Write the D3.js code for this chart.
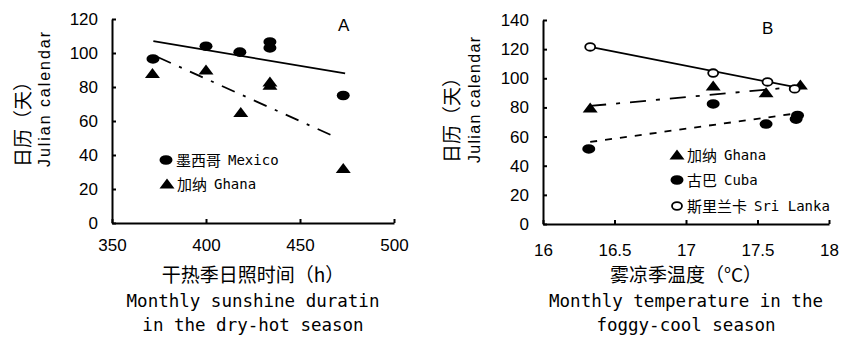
<!DOCTYPE html>
<html>
<head>
<meta charset="utf-8">
<script src="https://cdn.jsdelivr.net/npm/d3@7"></script>
<style>
  body { margin: 0; background: #fff; }
  .tick text { font-family: "Liberation Sans", Arial, sans-serif; font-size: 17px; fill: #000; }
  .domain, .tick line { stroke: #000; stroke-width: 2px; }
</style>
</head>
<body>
<div id="chart"></div>
<script>
// panel A: sunshine hours (dry-hot season)
const sunshineMexico = [371.8, 400, 418, 434, 434, 473];
const dayMexico = [96.5, 104, 100.5, 106.5, 103, 75];
const sunshineGhana = [371.5, 400, 418.5, 434, 434, 473];
const dayGhana = [88, 90, 65, 83, 81, 32];
const trendMexicoA = { x: [372, 474], y: [107, 88] };
const trendGhanaA = { x: [374.5, 470], y: [97.5, 50] };
const xTicksA = [350, 400, 450, 500];
const yTicksA = [0, 20, 40, 60, 80, 100, 120];

// panel B: temperature (foggy-cool season)
const tempGhana = [16.33, 17.19, 17.56, 17.8];
const dayGhanaB = [79.6, 94.7, 90, 95.4];
const tempCuba = [16.32, 17.19, 17.56, 17.77, 17.78];
const dayCuba = [51.5, 82.4, 68.6, 72, 74.5];
const tempSriLanka = [16.33, 17.19, 17.57, 17.76];
const daySriLanka = [121.5, 103.6, 97.5, 92.7];
const trendSriLanka = { x: [16.33, 17.81], y: [121.5, 93] };
const trendGhanaB = { x: [16.33, 17.76], y: [81, 94] };
const trendCuba = { x: [16.33, 17.78], y: [56.3, 76] };
const xTicksB = [16, 16.5, 17, 17.5, 18];
const yTicksB = [0, 20, 40, 60, 80, 100, 120, 140];

const svg = d3.select("#chart")
  .append("svg")
  .attr("width", 842)
  .attr("height", 337);

const tri = "M-7.5,4.5L7.5,4.5L0,-5.5Z";

function marker(g, type, x, y) {
  if (type === "tri") {
    g.append("path").attr("d", tri).attr("transform", `translate(${x},${y})`).attr("fill", "#000");
  } else if (type === "dot") {
    g.append("ellipse").attr("cx", x).attr("cy", y).attr("rx", 6.5).attr("ry", 4.8).attr("fill", "#000");
  } else {
    g.append("ellipse").attr("cx", x).attr("cy", y).attr("rx", 5).attr("ry", 3.8)
      .attr("fill", "#fff").attr("stroke", "#000").attr("stroke-width", 1.8);
  }
}

function drawPanel(p) {
  const g = svg.append("g");
  const x = p.x, y = p.y;

  g.append("g")
    .attr("transform", `translate(${x.range()[0]},0)`)
    .call(d3.axisLeft(y).tickValues(p.yTicks).tickSizeInner(-4).tickSizeOuter(0).tickPadding(14));

  g.append("g")
    .attr("transform", `translate(0,${y.range()[0]})`)
    .call(d3.axisBottom(x).tickValues(p.xTicks).tickFormat(p.xFormat).tickSizeInner(-4).tickSizeOuter(0).tickPadding(p.xPad));

  // trend lines
  p.trends.forEach(t => {
    g.append("line")
      .attr("x1", x(t.d.x[0])).attr("y1", y(t.d.y[0]))
      .attr("x2", x(t.d.x[1])).attr("y2", y(t.d.y[1]))
      .attr("stroke", "#000").attr("stroke-width", 1.8)
      .attr("stroke-dasharray", t.dash);
  });

  // points
  p.series.forEach(s => {
    s.xs.forEach((v, i) => marker(g, s.type, x(v), y(s.ys[i])));
  });

  // legend
  p.legend.forEach(l => {
    marker(g, l.type, l.lx, l.ly);
    g.append("text").attr("x", l.lx + 10).attr("y", l.ly + 5.5)
      .style("font-family", "'Noto Sans CJK SC', sans-serif").style("font-size", "15px")
      .text(l.zh);
    g.append("text").attr("x", l.lx + 12 + l.zh.length * 15 + 5).attr("y", l.ly + 5)
      .style("font-family", "'DejaVu Sans Mono', monospace").style("font-size", "14px")
      .text(l.en);
  });

  g.append("text").attr("x", p.tag[0]).attr("y", p.tag[1])
    .style("font-family", "'Liberation Sans', Arial, sans-serif").style("font-size", "17px")
    .text(p.tag[2]);

  // y axis titles
  g.append("text")
    .attr("transform", `translate(${p.yLab[0]},${p.yLab[2]}) rotate(-90)`)
    .style("font-family", "'Noto Sans CJK SC', sans-serif").style("font-size", "19px")
    .text("日历（天）");
  g.append("text")
    .attr("transform", `translate(${p.yLab[1]},${p.yLab[2]}) rotate(-90)`)
    .attr("textLength", p.yLab[3]).attr("lengthAdjust", "spacing")
    .style("font-family", "'Liberation Sans', Arial, sans-serif").style("font-size", "16px")
    .text("Julian calendar");

  // x axis titles
  const cx = (x.range()[0] + x.range()[1]) / 2;
  g.append("text").attr("x", cx).attr("y", 282).attr("text-anchor", "middle")
    .style("font-family", "'Noto Sans CJK SC', sans-serif").style("font-size", "19px")
    .text(p.xTitle[0]);
  g.append("text").attr("x", cx).attr("y", 307).attr("text-anchor", "middle")
    .style("font-family", "'DejaVu Sans Mono', monospace").style("font-size", "17.5px")
    .text(p.xTitle[1]);
  g.append("text").attr("x", cx).attr("y", 331).attr("text-anchor", "middle")
    .style("font-family", "'DejaVu Sans Mono', monospace").style("font-size", "17.5px")
    .text(p.xTitle[2]);
}

drawPanel({
  x: d3.scaleLinear().domain([350, 500]).range([112, 394]),
  y: d3.scaleLinear().domain([0, 120]).range([223, 19]),
  xTicks: xTicksA, yTicks: yTicksA, xFormat: d3.format("d"), xPad: 16,
  trends: [
    { d: trendMexicoA, dash: null },
    { d: trendGhanaA, dash: "14,9,3,9" }
  ],
  series: [
    { type: "dot", xs: sunshineMexico, ys: dayMexico },
    { type: "tri", xs: sunshineGhana, ys: dayGhana }
  ],
  legend: [
    { type: "dot", zh: "墨西哥", en: "Mexico", lx: 166, ly: 160 },
    { type: "tri", zh: "加纳", en: "Ghana", lx: 167, ly: 184 }
  ],
  tag: [338, 31, "A"],
  yLab: [30, 50, 167, 135],
  xTitle: ["干热季日照时间（h）", "Monthly sunshine duratin", "in the dry-hot season"]
});

drawPanel({
  x: d3.scaleLinear().domain([16, 18]).range([543, 829]),
  y: d3.scaleLinear().domain([0, 140]).range([224, 20]),
  xTicks: xTicksB, yTicks: yTicksB, xFormat: d => d % 1 ? d3.format(".1f")(d) : d3.format("d")(d), xPad: 20,
  trends: [
    { d: trendSriLanka, dash: null },
    { d: trendGhanaB, dash: "16,10,4,10" },
    { d: trendCuba, dash: "7,8" }
  ],
  series: [
    { type: "dot", xs: tempCuba, ys: dayCuba },
    { type: "tri", xs: tempGhana, ys: dayGhanaB },
    { type: "ring", xs: tempSriLanka, ys: daySriLanka }
  ],
  legend: [
    { type: "tri", zh: "加纳", en: "Ghana", lx: 677, ly: 155 },
    { type: "dot", zh: "古巴", en: "Cuba", lx: 677, ly: 180 },
    { type: "ring", zh: "斯里兰卡", en: "Sri Lanka", lx: 677, ly: 206 }
  ],
  tag: [762, 34, "B"],
  yLab: [459, 480, 163, 126],
  xTitle: ["雾凉季温度（°C）", "Monthly temperature in the", "foggy-cool season"]
});
</script>
</body>
</html>
